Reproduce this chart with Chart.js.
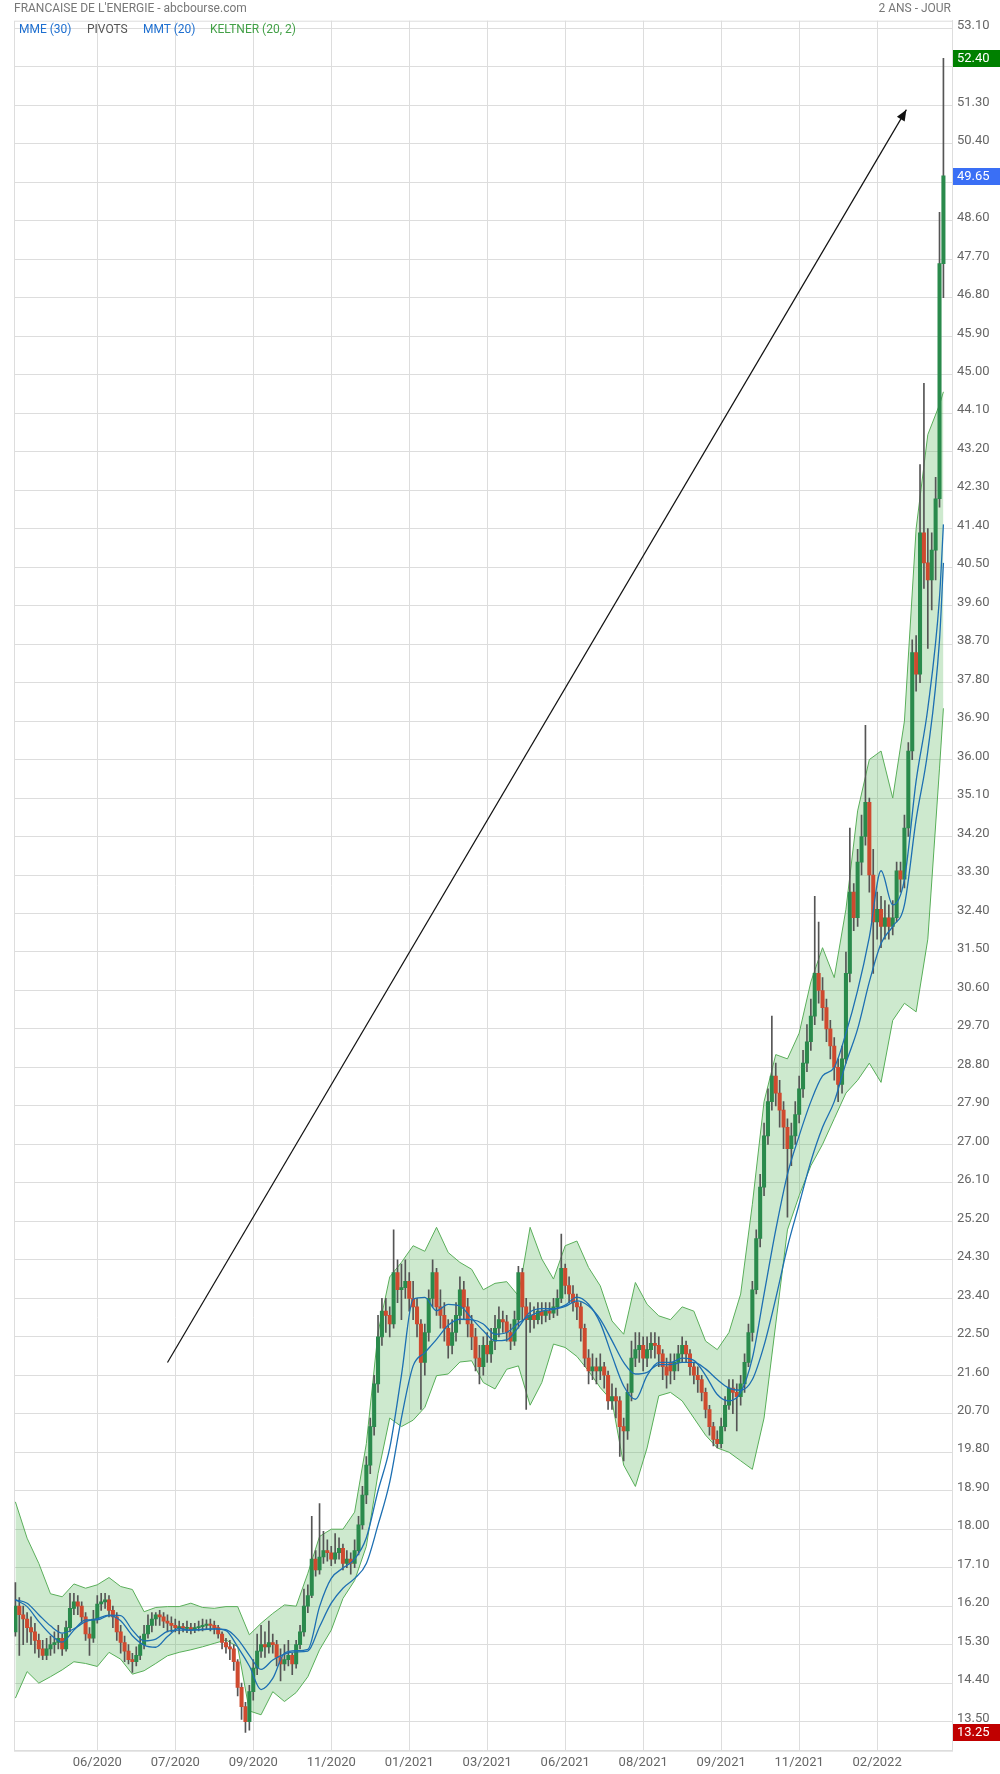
<!DOCTYPE html>
<html>
<head>
<meta charset="utf-8">
<script src="https://cdn.jsdelivr.net/npm/chart.js@4.4.1/dist/chart.umd.min.js"></script>
<style>
  body { margin: 0; background: #fff; }
  #wrap { position: relative; width: 1000px; height: 1774px; font-family: Roboto, Arial, sans-serif; }
  #wrap canvas { position: absolute; left: 0; top: 0; }
  .hd { position: absolute; top: 0; font-size: 12px; line-height: 17px; color: #777; white-space: nowrap; }
  .lg { position: absolute; top: 21px; font-size: 12px; line-height: 17px; white-space: nowrap; }
</style>
</head>
<body>
<div id="wrap">
  <canvas id="chart" width="1000" height="1774"></canvas>
  <div class="hd" style="left:14px">FRANCAISE DE L'ENERGIE - abcbourse.com</div>
  <div class="hd" style="right:49px">2 ANS - JOUR</div>
  <div class="lg" style="left:19px;color:#1e6fd0">MME (30)</div>
  <div class="lg" style="left:87px;color:#555">PIVOTS</div>
  <div class="lg" style="left:143px;color:#1e6fd0">MMT (20)</div>
  <div class="lg" style="left:210px;color:#43a047">KELTNER (20, 2)</div>
</div>
<script>
// candles (one candle per slot)
const opens = [
  15.6, 16.2, 16.0, 15.9, 15.7, 15.6, 15.4, 15.2, 15.05, 15.2,
  15.3, 15.35, 15.45, 15.2, 15.7, 16.15, 16.3, 16.2, 15.95, 15.55,
  15.45, 15.9, 16.25, 16.3, 16.35, 16.1, 15.95, 15.6, 15.35, 15.15,
  14.95, 14.9, 15.05, 15.3, 15.55, 15.75, 15.9, 16.0, 15.95, 15.85,
  15.8, 15.75, 15.7, 15.72, 15.68, 15.7, 15.65, 15.7, 15.72, 15.75,
  15.78, 15.75, 15.7, 15.55, 15.35, 15.25, 15.2, 14.9, 14.3, 13.85,
  13.5, 14.2, 14.75, 15.15, 15.3, 15.25, 15.35, 15.3, 15.0, 14.85,
  14.95, 15.05, 14.85, 15.3, 15.6, 16.2, 16.45, 17.3, 17.05, 17.35,
  17.5, 17.45, 17.3, 17.45, 17.55, 17.2, 17.3,
  17.2, 17.5, 18.1, 18.8, 19.5, 20.4, 21.4, 22.5, 23.1, 23.0,
  22.8, 24.0, 23.6, 23.65, 23.8, 23.4, 23.2, 22.8, 21.9, 22.6,
  23.4, 24.0, 23.2, 23.0, 22.7, 22.3, 22.6, 23.0, 23.6, 23.2,
  22.8, 22.5, 22.0, 21.8, 22.3, 22.1, 22.4, 22.7, 22.9, 22.85,
  22.6, 22.4, 22.9, 24.0, 23.2, 22.9, 23.0, 22.9, 23.1, 23.0,
  23.1, 23.05, 23.2, 23.4, 24.1, 23.7, 23.5, 23.3, 23.2, 22.7,
  22.0, 21.7, 21.8, 21.7, 21.8, 21.6, 21.0, 21.1, 21.0, 20.4,
  20.3, 21.2, 22.0, 22.2, 22.3, 22.0, 22.2, 22.35, 22.3, 22.1,
  21.8,
  21.9, 21.7, 21.9, 22.1, 22.3, 22.1, 21.8, 21.6, 21.5, 21.2,
  20.8, 20.4, 20.1, 20.0, 20.4, 20.9, 21.3, 21.2, 21.1, 21.4,
  21.9, 22.6, 23.6, 24.8, 26.0, 27.2, 28.0, 28.6, 28.2, 27.8,
  27.4, 26.9, 27.2, 27.7, 28.3, 28.9, 29.4, 30.0, 31.0, 30.6,
  30.2, 29.7, 29.3, 28.8, 28.4, 29.0, 31.0, 32.9, 32.3, 33.6,
  34.2, 35.0, 33.3, 32.2, 32.5, 32.1, 32.3, 32.1, 32.3, 33.4,
  33.2, 34.4, 36.2, 38.5, 38.0, 41.3, 40.6, 40.2, 40.9, 42.1,
  47.6
];
const highs = [
  16.75, 16.4, 16.2, 16.05, 15.95, 15.8, 15.55, 15.4, 15.45, 15.5,
  15.6, 15.75, 15.55, 15.85, 16.5, 16.5, 16.45, 16.3, 16.05, 15.7,
  16.1, 16.45, 16.5, 16.5, 16.45, 16.2, 16.05, 15.75, 15.5, 15.3,
  15.1, 15.25, 15.5, 15.75, 16.0, 16.05, 16.05, 16.1, 16.05, 16.0,
  15.95, 15.9, 15.85, 15.8, 15.85, 15.8, 15.8, 15.85, 15.9, 15.88,
  15.9, 15.85, 15.75, 15.6, 15.45, 15.4, 15.3, 14.95, 14.4, 13.95,
  14.35, 14.95, 15.55, 15.75, 15.6, 15.85, 15.55, 15.4, 15.2, 15.3,
  15.4, 15.1, 15.4, 15.75, 16.6, 16.7, 18.3, 17.5, 18.6, 17.95,
  17.75, 17.6, 17.9, 17.8, 17.65, 17.5, 17.45,
  17.75, 18.3, 19.0, 19.7, 20.6, 21.6, 23.0, 23.4, 23.4, 23.2,
  25.0, 24.3, 24.2, 24.3, 24.0, 23.8, 23.4, 22.9, 22.8, 23.6,
  24.3, 24.1, 23.6, 23.3, 22.9, 22.9, 23.3, 23.9, 23.8, 23.4,
  23.0, 22.7, 22.3, 22.5, 22.6, 22.7, 23.0, 23.2, 23.1, 23.0,
  22.8, 23.1, 24.15, 24.1, 23.4, 23.3, 23.2, 23.3, 23.3, 23.3,
  23.3, 23.4, 23.6, 24.9, 24.2, 23.9, 23.7, 23.5, 23.3, 22.8,
  22.2, 22.1, 22.0, 22.1, 21.9, 21.7, 21.4, 21.3, 21.1, 20.6,
  21.4, 22.4, 22.6, 22.6, 22.5, 22.5, 22.6, 22.6, 22.5, 22.2,
  22.0,
  22.1, 22.1, 22.3, 22.5, 22.4, 22.2, 21.9, 21.8, 21.6, 21.3,
  20.9, 20.5, 20.3, 20.6, 21.1, 21.5, 21.5, 21.4, 21.6, 22.1,
  22.8, 23.8, 25.0, 26.3, 27.5, 28.3, 30.0, 28.9, 28.5, 28.0,
  27.6, 27.5, 28.0, 28.6, 29.2, 29.8, 30.4, 32.8, 32.2, 30.9,
  30.4, 29.9, 29.5, 29.0, 29.3, 31.5, 34.4, 33.1, 33.9, 34.7,
  36.8, 35.1, 33.9, 32.9, 32.8, 32.7, 32.6, 32.7, 33.6, 33.6,
  34.7, 36.4, 38.8, 38.9, 42.9, 44.8, 41.4, 41.3, 42.6, 48.8,
  52.4
];
const lows = [
  15.5, 15.05, 15.3, 15.35, 15.3, 15.1, 15.0, 14.95, 14.95, 15.05,
  15.1, 15.2, 15.05, 15.15, 15.6, 16.0, 16.0, 15.8, 15.4, 15.05,
  15.35, 15.8, 16.1, 16.15, 15.95, 15.7, 15.4, 15.1, 14.9, 14.85,
  14.65, 14.8, 14.95, 15.2, 15.45, 15.6, 15.75, 15.75, 15.7, 15.6,
  15.6, 15.6, 15.55, 15.6, 15.58, 15.55, 15.58, 15.62, 15.62, 15.65,
  15.62, 15.55, 15.45, 15.2, 15.1, 14.95, 14.7, 14.1, 13.55, 13.25,
  13.3, 14.0, 14.6, 15.0, 15.0, 15.1, 15.1, 14.8, 14.45, 14.7,
  14.8, 14.6, 14.75, 15.2, 15.5, 16.05, 16.4, 16.9, 16.95, 17.2,
  17.25, 17.15, 17.2, 17.3, 17.05, 17.1, 16.95,
  17.1, 17.4, 18.0, 18.6, 19.3, 20.2, 21.2, 22.3, 22.6, 22.5,
  22.7, 23.3, 22.9, 23.4, 23.1, 22.9, 22.5, 20.8, 21.6, 22.4,
  23.2, 23.0, 22.7, 22.4, 22.0, 22.1, 22.4, 22.8, 22.9, 22.5,
  22.2, 21.7, 21.4, 21.6, 21.9, 21.9, 22.2, 22.5, 22.6, 22.4,
  22.2, 22.3, 22.7, 22.9, 20.8, 22.6, 22.7, 22.8, 22.8, 22.85,
  22.9, 22.95, 23.0, 23.3, 23.5, 23.3, 23.1, 22.9, 22.4, 21.8,
  21.4, 21.5, 21.4, 21.5, 21.3, 20.8, 20.8, 20.6, 19.7, 19.6,
  20.1, 21.0, 21.8, 21.9, 21.7, 21.8, 22.0, 22.0, 21.8, 21.5,
  21.3,
  21.4, 21.5, 21.7, 21.9, 21.9, 21.6, 21.4, 21.2, 21.0, 20.6,
  20.2, 19.95, 19.9, 19.9, 20.3, 20.8, 20.7, 20.3, 20.9, 21.2,
  21.8, 22.4, 23.5, 24.6, 25.8, 27.0, 27.8, 27.9, 27.4, 26.9,
  25.3, 26.5, 27.0, 27.5, 28.1, 28.7, 29.2, 29.8, 30.3, 29.9,
  29.4, 29.0, 28.5, 28.0, 28.2, 28.9, 30.8, 32.0, 32.1, 33.3,
  34.0, 32.9, 31.0, 31.8, 31.6, 31.8, 31.8, 31.9, 32.2, 32.9,
  33.0, 34.2, 36.0, 37.6, 37.8, 40.0, 38.6, 39.5, 40.2, 41.9,
  46.8
];
const closes = [
  16.2, 16.0, 15.9, 15.7, 15.6, 15.4, 15.2, 15.05, 15.2, 15.3,
  15.35, 15.45, 15.2, 15.7, 16.15, 16.3, 16.2, 15.95, 15.55, 15.45,
  15.9, 16.25, 16.3, 16.35, 16.1, 15.95, 15.6, 15.35, 15.15, 14.95,
  14.9, 15.05, 15.3, 15.55, 15.75, 15.9, 16.0, 15.95, 15.85, 15.8,
  15.75, 15.7, 15.72, 15.68, 15.7, 15.65, 15.7, 15.72, 15.75, 15.78,
  15.75, 15.7, 15.55, 15.35, 15.25, 15.2, 14.9, 14.3, 13.85, 13.5,
  14.2, 14.75, 15.15, 15.3, 15.25, 15.35, 15.3, 15.0, 14.85, 14.95,
  15.05, 14.85, 15.3, 15.6, 16.2, 16.45, 17.3, 17.05, 17.35, 17.5,
  17.45, 17.3, 17.45, 17.55, 17.2, 17.3, 17.2,
  17.5, 18.1, 18.8, 19.5, 20.4, 21.4, 22.5, 23.1, 23.0, 22.8,
  24.0, 23.6, 23.65, 23.8, 23.4, 23.2, 22.8, 21.9, 22.6, 23.4,
  24.0, 23.2, 23.0, 22.7, 22.3, 22.6, 23.0, 23.6, 23.2, 22.8,
  22.5, 22.0, 21.8, 22.3, 22.1, 22.4, 22.7, 22.9, 22.85, 22.6,
  22.4, 22.9, 24.0, 23.2, 22.9, 23.0, 22.9, 23.1, 23.0, 23.1,
  23.05, 23.2, 23.4, 24.1, 23.7, 23.5, 23.3, 23.2, 22.7, 22.0,
  21.7, 21.8, 21.7, 21.8, 21.6, 21.0, 21.1, 21.0, 20.4, 20.3,
  21.2, 22.0, 22.2, 22.3, 22.0, 22.2, 22.35, 22.3, 22.1, 21.8,
  21.6,
  21.7, 21.9, 22.1, 22.3, 22.1, 21.8, 21.6, 21.5, 21.2, 20.8,
  20.4, 20.1, 20.0, 20.4, 20.9, 21.3, 21.2, 21.1, 21.4, 21.9,
  22.6, 23.6, 24.8, 26.0, 27.2, 28.0, 28.6, 28.2, 27.8, 27.4,
  26.9, 27.2, 27.7, 28.3, 28.9, 29.4, 30.0, 31.0, 30.6, 30.2,
  29.7, 29.3, 28.8, 28.4, 29.0, 31.0, 32.9, 32.3, 33.6, 34.2,
  35.0, 33.3, 32.2, 32.5, 32.1, 32.3, 32.1, 32.3, 33.4, 33.2,
  34.4, 36.2, 38.5, 38.0, 41.3, 40.6, 40.2, 40.9, 42.1, 47.6,
  49.65
];

// indicators, read every third candle
const IND_STEP = 3;
const keltnerUp = [
  18.64, 17.79, 17.2, 16.49, 16.42, 16.72, 16.62, 16.70, 16.87, 16.66,
  16.59, 16.07, 16.17, 16.19, 16.19, 16.27, 16.17, 16.15, 16.19, 16.19,
  15.53, 15.8, 16.03, 16.23, 16.2, 16.97, 17.83, 18.0, 18.0, 18.4,
  20.0, 22.6, 23.9, 24.24, 24.63, 24.5, 25.06, 24.47, 24.24, 24.08,
  23.6, 23.75, 23.79, 23.46, 25.06, 24.32, 23.85, 24.63, 24.74, 24.12,
  23.69, 22.87, 22.56, 23.77, 23.26, 22.99, 22.9, 23.2, 23.1, 22.4,
  22.2, 22.6, 23.5, 25.6, 28.0, 29.1, 29.0, 29.6, 30.8, 31.6,
  30.9, 32.5, 34.8, 36.0, 36.2, 35.1, 36.9, 41.4, 43.6, 44.3,
  44.6
];
const keltnerLow = [
  14.05, 14.67, 14.40, 14.55, 14.71, 14.9, 14.86, 14.79, 15.12, 14.96,
  14.61, 14.69, 14.86, 15.04, 15.12, 15.18, 15.25, 15.33, 15.41, 15.25,
  13.75, 13.66, 14.2, 13.97, 14.18, 14.55, 15.18, 15.64, 16.38, 16.8,
  17.6, 19.3, 20.6, 20.4, 20.55, 20.85, 21.59, 21.63, 21.91, 21.94,
  21.43, 21.28, 21.74, 21.82, 20.9, 21.43, 22.33, 22.25, 22.04, 21.7,
  21.31, 21.0, 19.5, 19.0, 19.9, 21.12, 21.2, 21.0, 20.6, 20.2,
  19.9, 19.8, 19.6, 19.4, 20.6, 22.8, 25.0, 25.8, 26.5, 27.0,
  27.6, 28.2, 28.5, 28.9, 28.45, 29.9, 30.3, 30.1, 31.8, 35.8,
  37.2
];
const mmt20 = [
  16.35, 16.19, 15.84, 15.54, 15.36, 15.64, 15.88, 15.88, 15.98, 15.86,
  15.51, 15.29, 15.24, 15.49, 15.68, 15.64, 15.65, 15.67, 15.63, 15.25,
  14.8, 14.25, 14.51, 15.1, 15.16, 15.19, 16.19, 16.85, 17.09, 17.3,
  17.8, 18.9, 19.9, 21.6, 23.38, 23.42, 23.11, 23.26, 23.22, 22.93,
  22.64, 22.41, 22.43, 22.72, 23.08, 23.16, 23.16, 23.24, 23.43, 23.26,
  22.82, 22.06, 21.35, 21.04, 21.59, 21.9, 21.9, 22.0, 21.95, 21.6,
  21.15, 21.0, 21.2, 22.0, 23.5, 25.0, 26.3, 27.2, 28.0, 28.6,
  28.8, 29.6, 30.6, 31.85, 33.4, 32.6, 33.2, 35.5, 37.2, 39.8,
  41.5
];
const mme30 = [
  16.35, 16.27, 16.0, 15.74, 15.57, 15.67, 15.84, 15.91, 15.99, 15.98,
  15.64, 15.39, 15.43, 15.61, 15.64, 15.64, 15.66, 15.67, 15.65, 15.43,
  15.05, 14.72, 14.94, 15.08, 15.13, 15.15, 15.72, 16.27, 16.62, 16.85,
  17.2, 18.1, 19.1, 20.6, 21.82, 22.13, 22.44, 22.77, 22.91, 22.9,
  22.8, 22.56, 22.6, 22.82, 22.99, 23.1, 23.14, 23.21, 23.34, 23.22,
  22.91, 22.41, 21.9, 21.63, 21.67, 21.85, 21.85, 21.9, 21.9, 21.75,
  21.5, 21.3, 21.25, 21.5, 22.3, 23.4, 24.6, 25.6, 26.6, 27.4,
  28.0, 28.9, 29.7, 30.8, 31.7, 32.1, 32.6, 34.6, 36.2, 38.8,
  40.6
];

const xTickIdx = [21, 41, 61, 81, 101, 121, 141, 161, 181, 201, 221];
const xTickLabels = ['06/2020', '07/2020', '09/2020', '11/2020', '01/2021', '03/2021',
                     '06/2021', '08/2021', '09/2021', '11/2021', '02/2022'];
const yTickLabels = ['13.50', '14.40', '15.30', '16.20', '17.10', '18.00', '18.90', '19.80',
  '20.70', '21.60', '22.50', '23.40', '24.30', '25.20', '26.10', '27.00', '27.90', '28.80',
  '29.70', '30.60', '31.50', '32.40', '33.30', '34.20', '35.10', '36.00', '36.90', '37.80',
  '38.70', '39.60', '40.50', '41.40', '42.30', '43.20', '44.10', '45.00', '45.90', '46.80',
  '47.70', '48.60', '49.50', '50.40', '51.30', '52.20', '53.10'];

// trend arrow drawn on the chart (candle index, price)
const arrowIdx = [39, 228.5];
const arrowVal = [21.9, 51.2];

// price tags on the right axis: highest, last, lowest
const tagValues = [52.40, 49.65, 13.25];
const tagLabels = ['52.40', '49.65', '13.25'];
const tagColors = ['#008000', '#3a6ff5', '#c00000'];

const GREEN = '#2a8a4c';
const RED = '#cf4a2f';
const GRID = '#dddddd';
const N = closes.length;

const bodyData = closes.map((c, i) => ({ x: i, y: [opens[i], c] }));
const wickData = closes.map((c, i) => ({ x: i, y: [lows[i], highs[i]] }));
const bodyColors = closes.map((c, i) => c >= opens[i] ? GREEN : RED);
const indPts = arr => arr.map((v, i) => ({ x: Math.min(i * IND_STEP, N - 1), y: v }));

const frame = {
  id: 'frame',
  beforeDatasetsDraw(chart) {
    const { ctx, chartArea: a } = chart;
    ctx.save();
    ctx.strokeStyle = GRID;
    ctx.lineWidth = 1;
    ctx.strokeRect(a.left + 0.5, a.top + 0.5, a.right - a.left, a.bottom - a.top);
    ctx.restore();
  }
};

const arrowHead = {
  id: 'arrowHead',
  afterDatasetsDraw(chart) {
    const { ctx, scales: { x, y } } = chart;
    const x1 = x.getPixelForValue(arrowIdx[0]), y1 = y.getPixelForValue(arrowVal[0]);
    const x2 = x.getPixelForValue(arrowIdx[1]), y2 = y.getPixelForValue(arrowVal[1]);
    const ang = Math.atan2(y2 - y1, x2 - x1);
    const len = 11, hw = 4.5;
    const bx = x2 - len * Math.cos(ang), by = y2 - len * Math.sin(ang);
    ctx.save();
    ctx.fillStyle = '#111';
    ctx.beginPath();
    ctx.moveTo(x2, y2);
    ctx.lineTo(bx + hw * Math.sin(ang), by - hw * Math.cos(ang));
    ctx.lineTo(bx - hw * Math.sin(ang), by + hw * Math.cos(ang));
    ctx.closePath();
    ctx.fill();
    ctx.restore();
  }
};

const priceTags = {
  id: 'priceTags',
  afterDraw(chart) {
    const { ctx, chartArea: a, scales: { y } } = chart;
    ctx.save();
    ctx.font = '13px Roboto, Arial, sans-serif';
    ctx.textBaseline = 'middle';
    tagValues.forEach((v, i) => {
      const yy = Math.round(y.getPixelForValue(v));
      ctx.fillStyle = tagColors[i];
      ctx.fillRect(a.right + 1, yy - 8, chart.width - a.right - 1, 17);
      ctx.fillStyle = '#fff';
      ctx.fillText(tagLabels[i], a.right + 5, yy + 1);
    });
    ctx.restore();
  }
};

new Chart(document.getElementById('chart'), {
  type: 'bar',
  data: {
    datasets: [
      { type: 'line', data: indPts(keltnerLow), borderColor: '#5aae5a', borderWidth: 1,
        pointRadius: 0, fill: false, tension: 0, order: 10 },
      { type: 'line', data: indPts(keltnerUp), borderColor: '#5aae5a', borderWidth: 1,
        pointRadius: 0, fill: '-1', backgroundColor: 'rgba(76,175,80,0.28)', tension: 0, order: 9 },
      { type: 'bar', data: wickData, backgroundColor: '#555', barThickness: 1,
        grouped: false, order: 6 },
      { type: 'bar', data: bodyData, backgroundColor: bodyColors, barThickness: 3.4,
        grouped: false, minBarLength: 1, order: 5 },
      { type: 'line', data: indPts(mmt20), borderColor: '#1d6fb2', borderWidth: 1.3,
        pointRadius: 0, cubicInterpolationMode: 'monotone', order: 3 },
      { type: 'line', data: indPts(mme30), borderColor: '#1d6fb2', borderWidth: 1.3,
        pointRadius: 0, cubicInterpolationMode: 'monotone', order: 2 },
      { type: 'line', data: arrowIdx.map((v, i) => ({ x: v, y: arrowVal[i] })),
        borderColor: '#111', borderWidth: 1.2, pointRadius: 0, order: 1 }
    ]
  },
  options: {
    responsive: false,
    animation: false,
    devicePixelRatio: 1,
    events: [],
    layout: { padding: { left: 14, top: 20.7, right: 0, bottom: 0 } },
    plugins: { legend: { display: false }, tooltip: { enabled: false } },
    scales: {
      x: {
        type: 'linear', min: -0.36, max: 240.2, offset: false,
        afterBuildTicks: s => { s.ticks = xTickIdx.map(v => ({ value: v })); },
        afterFit: s => { s.height = 23.3; },
        ticks: {
          autoSkip: false, maxRotation: 0, padding: 4, color: '#666',
          font: { family: 'Roboto', size: 13 },
          callback: (v, i) => xTickLabels[i]
        },
        grid: { color: GRID, drawTicks: false, offset: false },
        border: { color: GRID }
      },
      y: {
        position: 'right', min: 12.82, max: 53.28,
        afterBuildTicks: s => { s.ticks = yTickLabels.map(t => ({ value: parseFloat(t) })); },
        afterFit: s => { s.width = 48; },
        ticks: {
          autoSkip: false, padding: 5, labelOffset: -3, color: '#666',
          font: { family: 'Roboto', size: 13 },
          callback: (v, i) => yTickLabels[i]
        },
        grid: { color: GRID, drawTicks: false },
        border: { color: GRID }
      }
    }
  },
  plugins: [frame, arrowHead, priceTags]
});
</script>
</body>
</html>
